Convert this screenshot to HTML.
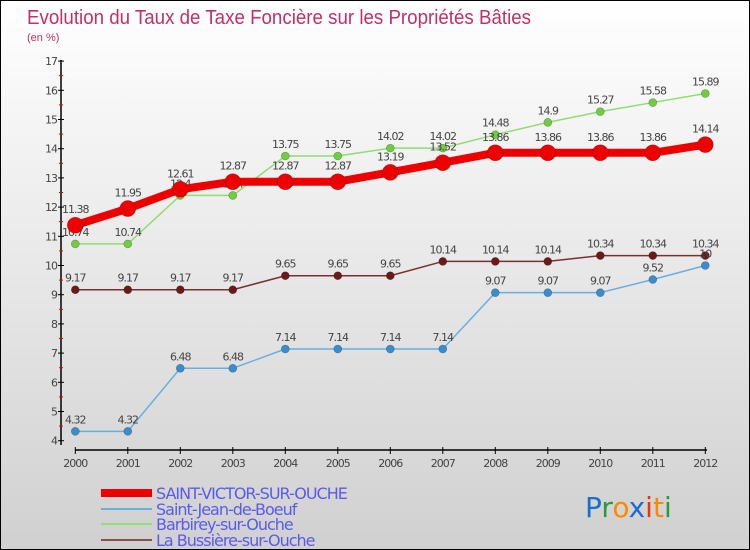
<!DOCTYPE html>
<html><head><meta charset="utf-8"><style>
body{margin:0}
#c{position:relative;width:748px;height:548px;border:1px solid #000;background:linear-gradient(#fff,#d0d0d0);overflow:hidden;font-family:"DejaVu Sans","Liberation Sans",sans-serif}
</style></head><body>
<div id="c">
<svg id="s" width="748" height="548"></svg>
</div>
<script>
const years=["2000","2001","2002","2003","2004","2005","2006","2007","2008","2009","2010","2011","2012"];
const svVals=[11.38,11.95,12.61,12.87,12.87,12.87,13.19,13.52,13.86,13.86,13.86,13.86,14.14];
const sjVals=[4.32,4.32,6.48,6.48,7.14,7.14,7.14,7.14,9.07,9.07,9.07,9.52,10];
const baVals=[10.74,10.74,12.4,12.4,13.75,13.75,14.02,14.02,14.48,14.9,15.27,15.58,15.89];
const lbVals=[9.17,9.17,9.17,9.17,9.65,9.65,9.65,10.14,10.14,10.14,10.34,10.34,10.34];
const yTicks=[4,5,6,7,8,9,10,11,12,13,14,15,16,17];
const names=["SAINT-VICTOR-SUR-OUCHE","Saint-Jean-de-Boeuf","Barbirey-sur-Ouche","La Bussière-sur-Ouche"];
const NS="http://www.w3.org/2000/svg",s=document.getElementById('s');
function X(i){return 74.3+i*52.5;}
function Y(v){return 439.7-(v-4)*29.2;}
function el(t,a,p){const e=document.createElementNS(NS,t);for(const k in a)e.setAttribute(k,a[k]);(p||s).appendChild(e);return e;}
function tx(x,y,str,a,p){const e=el('text',Object.assign({x:x,y:y},a),p);e.textContent=str;return e;}
let t=tx(26,23,"Evolution du Taux de Taxe Foncière sur les Propriétés Bâties",{'font-size':20,fill:'#c0306a','font-family':'Liberation Sans, sans-serif',textLength:504,lengthAdjust:'spacingAndGlyphs'});

t=tx(26,40,"(en %)",{'font-size':11,fill:'#c0306a','font-family':'Liberation Sans, sans-serif'});

let ax=el('line',{x1:60,y1:59,x2:60,y2:444,stroke:'#000','stroke-width':1.5});

ax=el('line',{x1:74,y1:449,x2:706,y2:449,stroke:'#000','stroke-width':1.5});

yTicks.forEach((v,i)=>{
  el('line',{x1:57,y1:Y(v),x2:63,y2:Y(v),stroke:'#000'});
  if(i<yTicks.length-1)el('line',{x1:58,y1:Y(v+0.5),x2:62,y2:Y(v+0.5),stroke:'#e00'});
  const l=tx(56,Y(v)+4,String(v),{'font-size':11,fill:'#444','text-anchor':'end','letter-spacing':'-1'});
  
});
years.forEach((y,i)=>{
  el('line',{x1:X(i),y1:446,x2:X(i),y2:453,stroke:'#000'});
  const l=tx(X(i),466,y,{'font-size':11,fill:'#444','text-anchor':'middle','letter-spacing':'-1'});
  
});
function series(vals,color,w,r,name,dot){
  const g=el('g',{});
  
  el('polyline',{points:vals.map((v,i)=>X(i)+','+Y(v)).join(' '),fill:'none',stroke:color,'stroke-width':w,'stroke-linejoin':'round'},g);
  vals.forEach((v,i)=>{
    el('circle',{cx:X(i),cy:Y(v),r:r,fill:dot||color,stroke:'rgba(0,0,0,0.3)','stroke-width':0.6},g);
    const l=tx(X(i),Y(v)-r-4,String(v),{'font-size':11,fill:'#444','text-anchor':'middle','letter-spacing':'-1'},g);
    
  });
}
series(lbVals,'#7a3030',1.5,4,'series-la-bussiere','#6b1a1a');
series(sjVals,'#6aaee0',1.5,4,'series-saint-jean','#3a8ccc');
series(baVals,'#90dd70',1.5,4,'series-barbirey','#70cc40');
series(svVals,'#ee0000',8,8,'series-saint-victor');
const lc=['#ee0000','#6aaee0','#90dd70','#8a5050'],lw=[8,2,2,2],ly=[492,508,523,539];
names.forEach((n,i)=>{
  const g=el('g',{});
  
  
  el('line',{x1:100,y1:ly[i],x2:151,y2:ly[i],stroke:lc[i],'stroke-width':lw[i]},g);
  tx(155,ly[i]+6,n,{'font-size':16,fill:'#5a5aee','letter-spacing':'-1'},g);
});
const lg=el('text',{x:584,y:516,'font-size':28,'font-family':'DejaVu Sans, sans-serif'});

[['P','#1a6ecc'],['r','#2a9a3a'],['o','#ff8800'],['x','#1a6ecc'],['i','#ee3300'],['t','#ff8800'],['i','#2a9a3a']].forEach(([c,f])=>{const sp=el('tspan',{fill:f},lg);sp.textContent=c;});
</script>
</body></html>
